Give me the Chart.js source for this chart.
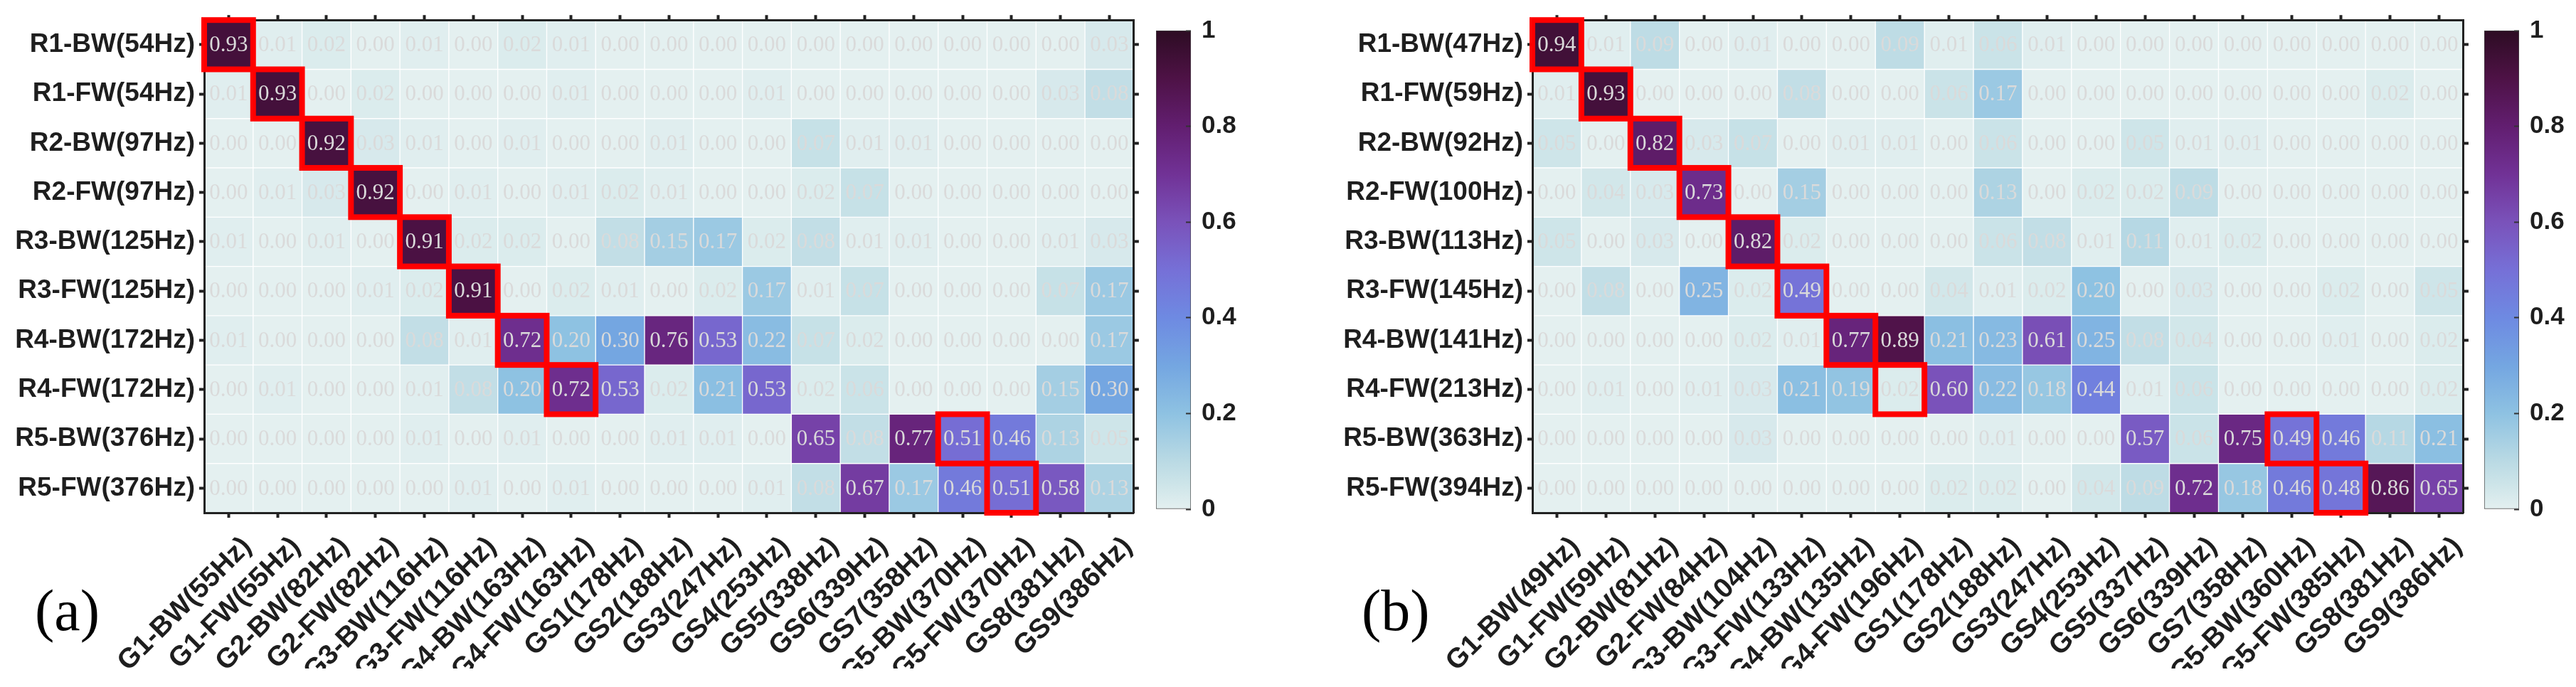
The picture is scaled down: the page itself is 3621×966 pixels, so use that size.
<!DOCTYPE html>
<html>
<head>
<meta charset="utf-8">
<script src="https://cdn.jsdelivr.net/npm/chart.js@4.4.1/dist/chart.umd.min.js"></script>
<style>
  html, body { margin: 0; padding: 0; background: #fff; }
  body { width: 3621px; height: 966px; position: relative; overflow: hidden; }
  .box { position: absolute; top: 0; height: 966px; }
  .heat { height: 940px; }
  .tag { position: absolute; font-family: "Liberation Serif", "Times New Roman", serif; font-size: 82px; line-height: 1; color: #000; }
</style>
</head>
<body>
<div class="box heat" style="left:0;width:1611px"><canvas id="heatA"></canvas></div>
<div class="box" style="left:1611px;width:150px"><canvas id="barA"></canvas></div>
<div class="box heat" style="left:1761px;width:1719px"><canvas id="heatB"></canvas></div>
<div class="box" style="left:3480px;width:141px"><canvas id="barB"></canvas></div>
<div class="tag" style="left:49px;top:818px">(a)</div>
<div class="tag" style="left:1914px;top:818px">(b)</div>
<script>
// --- panel (a) ---
const rowsA = ["R1-BW(54Hz)", "R1-FW(54Hz)", "R2-BW(97Hz)", "R2-FW(97Hz)", "R3-BW(125Hz)",
  "R3-FW(125Hz)", "R4-BW(172Hz)", "R4-FW(172Hz)", "R5-BW(376Hz)", "R5-FW(376Hz)"];
const colsA = ["G1-BW(55Hz)", "G1-FW(55Hz)", "G2-BW(82Hz)", "G2-FW(82Hz)", "G3-BW(116Hz)",
  "G3-FW(116Hz)", "G4-BW(163Hz)", "G4-FW(163Hz)", "GS1(178Hz)", "GS2(188Hz)", "GS3(247Hz)",
  "GS4(253Hz)", "GS5(338Hz)", "GS6(339Hz)", "GS7(358Hz)", "G5-BW(370Hz)", "G5-FW(370Hz)",
  "GS8(381Hz)", "GS9(386Hz)"];
const valuesA = [
  [0.93, 0.01, 0.02, 0.00, 0.01, 0.00, 0.02, 0.01, 0.00, 0.00, 0.00, 0.00, 0.00, 0.00, 0.00, 0.00, 0.00, 0.00, 0.03],
  [0.01, 0.93, 0.00, 0.02, 0.00, 0.00, 0.00, 0.01, 0.00, 0.00, 0.00, 0.01, 0.00, 0.00, 0.00, 0.00, 0.00, 0.03, 0.08],
  [0.00, 0.00, 0.92, 0.03, 0.01, 0.00, 0.01, 0.00, 0.00, 0.01, 0.00, 0.00, 0.07, 0.01, 0.01, 0.00, 0.00, 0.00, 0.00],
  [0.00, 0.01, 0.03, 0.92, 0.00, 0.01, 0.00, 0.01, 0.02, 0.01, 0.00, 0.00, 0.02, 0.07, 0.00, 0.00, 0.00, 0.00, 0.00],
  [0.01, 0.00, 0.01, 0.00, 0.91, 0.02, 0.02, 0.00, 0.08, 0.15, 0.17, 0.02, 0.08, 0.01, 0.01, 0.00, 0.00, 0.01, 0.03],
  [0.00, 0.00, 0.00, 0.01, 0.02, 0.91, 0.00, 0.02, 0.01, 0.00, 0.02, 0.17, 0.01, 0.07, 0.00, 0.00, 0.00, 0.07, 0.17],
  [0.01, 0.00, 0.00, 0.00, 0.08, 0.01, 0.72, 0.20, 0.30, 0.76, 0.53, 0.22, 0.07, 0.02, 0.00, 0.00, 0.00, 0.00, 0.17],
  [0.00, 0.01, 0.00, 0.00, 0.01, 0.08, 0.20, 0.72, 0.53, 0.02, 0.21, 0.53, 0.02, 0.06, 0.00, 0.00, 0.00, 0.15, 0.30],
  [0.00, 0.00, 0.00, 0.00, 0.01, 0.00, 0.01, 0.00, 0.00, 0.01, 0.01, 0.00, 0.65, 0.08, 0.77, 0.51, 0.46, 0.13, 0.05],
  [0.00, 0.00, 0.00, 0.00, 0.00, 0.01, 0.00, 0.01, 0.00, 0.00, 0.00, 0.01, 0.08, 0.67, 0.17, 0.46, 0.51, 0.58, 0.13]
];
// [row, col] of the red outlined cells
const boxesA = [[0, 0], [1, 1], [2, 2], [3, 3], [4, 4], [5, 5], [6, 6], [7, 7], [8, 15], [9, 16]];

// --- panel (b) ---
const rowsB = ["R1-BW(47Hz)", "R1-FW(59Hz)", "R2-BW(92Hz)", "R2-FW(100Hz)", "R3-BW(113Hz)",
  "R3-FW(145Hz)", "R4-BW(141Hz)", "R4-FW(213Hz)", "R5-BW(363Hz)", "R5-FW(394Hz)"];
const colsB = ["G1-BW(49Hz)", "G1-FW(59Hz)", "G2-BW(81Hz)", "G2-FW(84Hz)", "G3-BW(104Hz)",
  "G3-FW(133Hz)", "G4-BW(135Hz)", "G4-FW(196Hz)", "GS1(178Hz)", "GS2(188Hz)", "GS3(247Hz)",
  "GS4(253Hz)", "GS5(337Hz)", "GS6(339Hz)", "GS7(358Hz)", "G5-BW(360Hz)", "G5-FW(385Hz)",
  "GS8(381Hz)", "GS9(386Hz)"];
const valuesB = [
  [0.94, 0.01, 0.09, 0.00, 0.01, 0.00, 0.00, 0.09, 0.01, 0.06, 0.01, 0.00, 0.00, 0.00, 0.00, 0.00, 0.00, 0.00, 0.00],
  [0.01, 0.93, 0.00, 0.00, 0.00, 0.08, 0.00, 0.00, 0.06, 0.17, 0.00, 0.00, 0.00, 0.00, 0.00, 0.00, 0.00, 0.02, 0.00],
  [0.05, 0.00, 0.82, 0.03, 0.07, 0.00, 0.01, 0.01, 0.00, 0.06, 0.00, 0.00, 0.05, 0.01, 0.01, 0.00, 0.00, 0.00, 0.00],
  [0.00, 0.04, 0.03, 0.73, 0.00, 0.15, 0.00, 0.00, 0.00, 0.13, 0.00, 0.02, 0.02, 0.09, 0.00, 0.00, 0.00, 0.00, 0.00],
  [0.05, 0.00, 0.03, 0.00, 0.82, 0.02, 0.00, 0.00, 0.00, 0.06, 0.08, 0.01, 0.11, 0.01, 0.02, 0.00, 0.00, 0.00, 0.00],
  [0.00, 0.08, 0.00, 0.25, 0.02, 0.49, 0.00, 0.00, 0.04, 0.01, 0.02, 0.20, 0.00, 0.03, 0.00, 0.00, 0.02, 0.00, 0.05],
  [0.00, 0.00, 0.00, 0.00, 0.02, 0.01, 0.77, 0.89, 0.21, 0.23, 0.61, 0.25, 0.08, 0.04, 0.00, 0.00, 0.01, 0.00, 0.02],
  [0.00, 0.01, 0.00, 0.01, 0.03, 0.21, 0.19, 0.02, 0.60, 0.22, 0.18, 0.44, 0.01, 0.06, 0.00, 0.00, 0.00, 0.00, 0.02],
  [0.00, 0.00, 0.00, 0.00, 0.03, 0.00, 0.00, 0.00, 0.00, 0.01, 0.00, 0.00, 0.57, 0.06, 0.75, 0.49, 0.46, 0.11, 0.21],
  [0.00, 0.00, 0.00, 0.00, 0.00, 0.00, 0.00, 0.00, 0.02, 0.02, 0.00, 0.04, 0.09, 0.72, 0.18, 0.46, 0.48, 0.86, 0.65]
];
const boxesB = [[0, 0], [1, 1], [2, 2], [3, 3], [4, 4], [5, 5], [6, 6], [7, 7], [8, 15], [9, 16]];

const colorbarTicks = [0, 0.2, 0.4, 0.6, 0.8, 1];

// colour map (light teal -> blue -> purple -> dark plum)
const cmap = [
  [0.00, [228, 240, 240]],
  [0.05, [206, 229, 233]],
  [0.10, [186, 218, 228]],
  [0.20, [142, 194, 226]],
  [0.30, [116, 166, 225]],
  [0.40, [110, 138, 226]],
  [0.50, [118, 112, 215]],
  [0.60, [122, 82, 186]],
  [0.70, [113, 50, 150]],
  [0.80, [98, 30, 112]],
  [0.90, [78, 18, 70]],
  [1.00, [45, 12, 35]]
];

function colorFor(v) {
  for (let i = 1; i < cmap.length; i++) {
    if (v <= cmap[i][0]) {
      const [t0, c0] = cmap[i - 1];
      const [t1, c1] = cmap[i];
      const f = (v - t0) / (t1 - t0);
      const c = c0.map((a, k) => Math.round(a + (c1[k] - a) * f));
      return `rgb(${c[0]},${c[1]},${c[2]})`;
    }
  }
  const c = cmap[cmap.length - 1][1];
  return `rgb(${c[0]},${c[1]},${c[2]})`;
}

const fontFamily = '"Liberation Sans", Arial, sans-serif';
const ink = "#1e1e1e";

function heatChart(id, rows, cols, values, boxes, yWidth) {
  const datasets = values.map((vals, r) => ({
    label: rows[r],
    xAxisID: "x",
    yAxisID: "y",
    data: vals.map(() => [r - 0.5, r + 0.5]),
    backgroundColor: vals.map(colorFor),
    borderColor: "#ffffff",
    borderWidth: 1,
    borderSkipped: false,
    barPercentage: 1,
    categoryPercentage: 1
  }));

  const tickGrid = { display: true, drawOnChartArea: false, drawTicks: true, tickLength: 7,
    tickWidth: 4, tickColor: "#222", offset: false };
  const frame = { display: true, color: "#222", width: 3, z: 1 };
  const rowTicks = (s) => { s.ticks = rows.map((_, i) => ({ value: i })); };

  // numbers written in each cell
  const cellText = {
    id: "cellText",
    afterDatasetsDraw(chart) {
      const { ctx, scales: { x, y } } = chart;
      ctx.save();
      ctx.font = '31px "Liberation Serif", "Times New Roman", serif';
      ctx.fillStyle = "#dadada";
      ctx.textAlign = "center";
      ctx.textBaseline = "middle";
      values.forEach((vals, r) => vals.forEach((v, c) => {
        ctx.fillText(v.toFixed(2), x.getPixelForValue(c), y.getPixelForValue(r) + 1);
      }));
      ctx.restore();
    }
  };

  // red outlines on the matched pairs
  const redBoxes = {
    id: "redBoxes",
    afterDraw(chart) {
      const { ctx, scales: { x, y } } = chart;
      const cw = x.width / cols.length;
      const ch = y.height / rows.length;
      ctx.save();
      ctx.strokeStyle = "#ff0000";
      ctx.lineWidth = 8;
      boxes.forEach(([r, c]) => {
        ctx.strokeRect(x.getPixelForValue(c) - cw / 2, y.getPixelForValue(r) - ch / 2, cw, ch);
      });
      ctx.restore();
    }
  };

  return new Chart(document.getElementById(id), {
    type: "bar",
    data: { labels: cols, datasets },
    options: {
      responsive: true,
      maintainAspectRatio: false,
      animation: false,
      layout: { padding: 0 },
      plugins: { legend: { display: false }, tooltip: { enabled: false } },
      scales: {
        x: {
          type: "category", labels: cols, stacked: true, offset: true,
          grid: tickGrid, border: frame,
          ticks: { font: { family: fontFamily, size: 39, weight: "bold" }, color: ink,
            minRotation: 45, maxRotation: 45, autoSkip: false, padding: 18, labelOffset: 26 },
          afterFit: (s) => { s.height = 219; }
        },
        x2: {
          type: "category", labels: cols, position: "top", offset: true,
          grid: tickGrid, border: frame, ticks: { display: false },
          afterFit: (s) => { s.height = 26; }
        },
        y: {
          type: "linear", min: -0.5, max: 9.5, reverse: true,
          grid: tickGrid, border: frame, afterBuildTicks: rowTicks,
          ticks: { font: { family: fontFamily, size: 37, weight: "bold" }, color: ink, padding: 6,
            callback: (v) => rows[v] },
          afterFit: (s) => { s.width = yWidth; }
        },
        y2: {
          type: "linear", position: "right", min: -0.5, max: 9.5, reverse: true,
          grid: tickGrid, border: frame, afterBuildTicks: rowTicks, ticks: { display: false },
          afterFit: (s) => { s.width = 12; }
        }
      }
    },
    plugins: [cellText, redBoxes]
  });
}

function colorbarChart(id, padLeft, axisWidth) {
  const fill = (ctx) => {
    const { chart } = ctx;
    const area = chart.chartArea;
    if (!area) return colorFor(0.5);
    const g = chart.ctx.createLinearGradient(0, area.bottom, 0, area.top);
    cmap.forEach(([t, c]) => g.addColorStop(t, `rgb(${c[0]},${c[1]},${c[2]})`));
    return g;
  };
  return new Chart(document.getElementById(id), {
    type: "bar",
    data: {
      labels: [""],
      datasets: [{ data: [[0, 1]], backgroundColor: fill, borderColor: "#444", borderWidth: 1,
        borderSkipped: false, barPercentage: 1, categoryPercentage: 1 }]
    },
    options: {
      responsive: true,
      maintainAspectRatio: false,
      animation: false,
      layout: { padding: { left: padLeft, top: 30, bottom: 250, right: 0 } },
      plugins: { legend: { display: false }, tooltip: { enabled: false } },
      scales: {
        x: { display: false },
        y: {
          position: "right", min: 0, max: 1,
          afterBuildTicks: (s) => { s.ticks = colorbarTicks.map((v) => ({ value: v })); },
          ticks: { font: { family: fontFamily, size: 35, weight: "bold" }, color: ink, padding: 22,
            callback: (v) => String(v) },
          // short inward tick marks on the bar's right edge
          grid: { display: true, drawOnChartArea: false, drawTicks: true, tickLength: -7,
            tickWidth: 2, tickColor: "#333", z: 1 },
          border: { display: false },
          afterFit: (s) => { s.width = axisWidth; }
        }
      }
    }
  });
}

heatChart("heatA", rowsA, colsA, valuesA, boxesA, 287);
colorbarChart("barA", 14, 87);
heatChart("heatB", rowsB, colsB, valuesB, boxesB, 393);
colorbarChart("barB", 12, 80);
</script>
</body>
</html>
